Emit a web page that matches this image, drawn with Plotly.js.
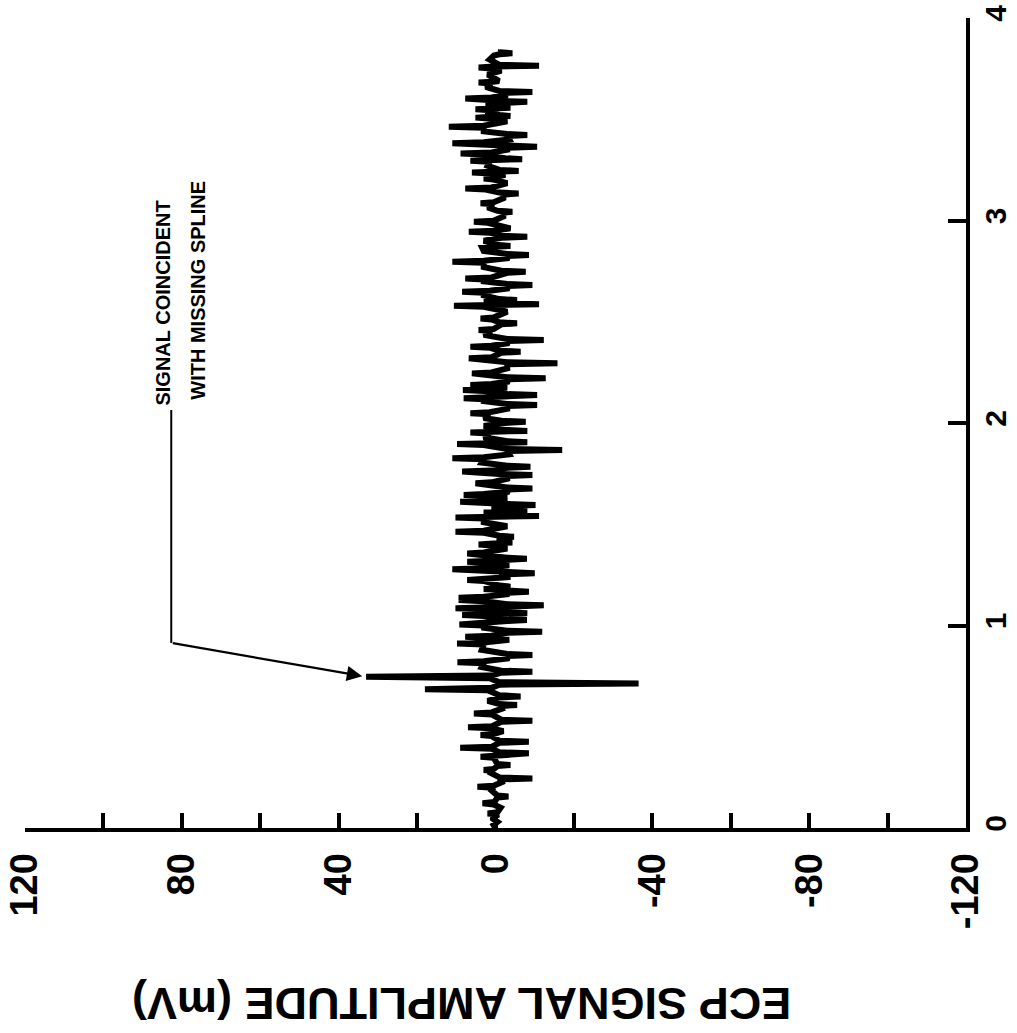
<!DOCTYPE html>
<html>
<head>
<meta charset="utf-8">
<script src="https://cdn.plot.ly/plotly-3.0.1.min.js"></script>
<style>
html,body{margin:0;padding:0;background:#ffffff;}
#chart{width:1017px;height:1033px;}
</style>
</head>
<body>
<div id="chart"></div>
<script>
// time (horizontal axis of the original chart, drawn vertically here)
const timeVals = [
0.000,0.015,0.030,0.050,0.066,0.072,0.078,0.100,0.116,0.122,
0.128,0.150,0.155,0.160,0.185,0.199,0.204,0.209,0.225,0.240,
0.245,0.250,0.270,0.281,0.286,0.291,0.306,0.311,0.316,0.347,
0.352,0.357,0.364,0.369,0.374,0.391,0.396,0.401,0.421,0.426,
0.431,0.454,0.459,0.464,0.478,0.492,0.497,0.502,0.525,0.530,
0.535,0.561,0.566,0.571,0.588,0.602,0.607,0.612,0.628,0.645,
0.650,0.655,0.680,0.685,0.692,0.708,0.714,0.720,0.740,0.747,
0.753,0.767,0.772,0.777,0.795,0.813,0.818,0.823,0.838,0.849,
0.854,0.859,0.880,0.906,0.911,0.916,0.930,0.940,0.945,0.950,
0.964,0.969,0.974,0.990,1.000,1.005,1.010,1.022,1.027,1.032,
1.047,1.052,1.056,1.060,1.065,1.080,1.085,1.090,1.095,1.100,
1.105,1.120,1.126,1.131,1.137,1.142,1.155,1.162,1.167,1.172,
1.180,1.187,1.192,1.197,1.220,1.225,1.230,1.240,1.247,1.253,
1.258,1.263,1.273,1.278,1.283,1.298,1.310,1.315,1.320,1.325,
1.330,1.335,1.351,1.356,1.361,1.380,1.395,1.400,1.405,1.410,
1.415,1.433,1.438,1.443,1.458,1.463,1.468,1.490,1.510,1.528,
1.533,1.537,1.541,1.546,1.558,1.565,1.570,1.575,1.583,1.590,
1.595,1.600,1.606,1.611,1.616,1.630,1.639,1.644,1.649,1.660,
1.672,1.677,1.682,1.697,1.702,1.707,1.725,1.738,1.743,1.748,
1.755,1.760,1.765,1.779,1.784,1.789,1.805,1.821,1.826,1.831,
1.845,1.862,1.867,1.872,1.891,1.896,1.900,1.905,1.910,1.930,
1.948,1.953,1.957,1.961,1.966,1.985,2.001,2.006,2.011,2.025,
2.043,2.048,2.053,2.070,2.084,2.089,2.094,2.108,2.117,2.122,
2.127,2.133,2.138,2.143,2.158,2.163,2.168,2.175,2.183,2.188,
2.193,2.205,2.216,2.221,2.226,2.240,2.245,2.250,2.270,2.290,
2.295,2.300,2.315,2.320,2.325,2.347,2.352,2.357,2.372,2.377,
2.382,2.395,2.405,2.410,2.415,2.435,2.454,2.459,2.464,2.487,
2.492,2.497,2.511,2.516,2.521,2.550,2.574,2.579,2.583,2.587,
2.592,2.597,2.602,2.607,2.612,2.630,2.643,2.648,2.653,2.665,
2.676,2.681,2.686,2.700,2.709,2.714,2.719,2.742,2.747,2.752,
2.770,2.791,2.796,2.801,2.815,2.825,2.830,2.835,2.850,2.866,
2.870,2.874,2.879,2.900,2.915,2.920,2.925,2.940,2.945,2.950,
2.961,2.970,2.989,2.994,2.999,3.020,3.038,3.043,3.048,3.065,
3.080,3.085,3.090,3.110,3.128,3.133,3.138,3.153,3.158,3.163,
3.185,3.202,3.207,3.212,3.225,3.232,3.237,3.241,3.245,3.250,
3.270,3.290,3.295,3.299,3.303,3.308,3.320,3.326,3.331,3.336,
3.350,3.359,3.364,3.369,3.376,3.381,3.386,3.400,3.417,3.422,
3.427,3.440,3.458,3.463,3.468,3.490,3.503,3.508,3.512,3.516,
3.521,3.535,3.544,3.549,3.553,3.557,3.562,3.570,3.581,3.586,
3.591,3.597,3.602,3.607,3.618,3.630,3.635,3.640,3.660,3.676,
3.681,3.685,3.689,3.700,3.720,3.740,3.751,3.756,3.760,3.764,
3.769,3.795,3.815,3.821,3.826,3.831,3.835
];
// ECP signal amplitude (mV)
const ampVals = [
0,0.5,-0.5,1.0,-0.8,2.0,-0.5,-1.3,0.5,3.3,
0.3,-0.5,-3.3,-0.5,1.0,0.5,4.6,0.5,-1.5,-1.0,
-9.4,-1.0,1.0,0.5,3.0,0.5,-0.5,-3.8,-0.5,0.5,
3.8,0,-1.0,-8.5,-1.0,1.0,9.0,1.0,-1.0,-8.5,
-1.0,1.0,3.8,0.5,-2.0,1.0,7.0,1.0,-1.5,-9.4,
-1.5,1.0,5.5,1.0,-1.5,-1.0,-5.5,-1.0,2.0,-1.0,
-6.4,-1.0,2.0,18,1.0,-1.0,-36.5,-1.0,1.5,33,
1.0,-1.5,-9.4,-1.5,3.5,3.0,9.7,3.0,-3.5,-3.0,
-9.4,-3.0,3.5,3.0,9.8,3.0,-3.5,3.0,7.7,1.0,
-3.0,-11.9,-3.0,3.5,3.0,9.2,3.0,-3.0,-8.0,-3.0,
3.0,8.5,1.0,-8.1,-3.0,3.0,10.2,1.0,-3.0,-12.3,
-3.0,3.0,9.4,3.5,9.4,3.0,-3.5,-3.0,-8.5,-3.0,
3.0,-1.0,-3.8,-1.0,3.0,7.2,1.0,-3.8,-1.0,-3.0,
-10.0,-3.0,3.0,11.0,3.0,-3.5,3.0,7.2,1.0,-3.0,
-8.0,-3.0,3.0,7.2,3.0,-3.0,1.0,4.3,0.5,-4.3,
-1.0,-1.0,-4.7,-1.0,3.0,10.2,3.0,-3.0,3.0,3.0,
10.2,1.0,-11.1,-3.0,3.0,-3.0,-8.1,-3.0,1.0,-3.0,
-10.2,-3.0,3.0,9.0,3.0,-3.0,3.0,8.1,3.0,-3.5,
-3.0,-9.4,-3.0,3.0,5.1,1.0,-3.0,-3.0,-9.4,-1.0,
3.0,8.5,1.0,-3.0,-8.9,-3.0,3.5,3.0,11.0,3.0,
-3.5,-3.0,-17.0,-3.0,3.0,9.8,1.0,-8.1,-3.0,3.0,
1.5,6.4,0.5,-8.1,-3.0,3.0,-3.0,-7.7,-1.5,3.0,
1.5,6.4,1.5,-3.0,-3.0,-10.6,-3.0,3.0,3.0,8.1,
1.0,-3.0,-10.6,-3.0,3.0,8.3,1.0,-3.0,3.0,6.4,
1.0,-3.5,-3.0,-12.8,-3.0,3.0,6.0,1.0,-3.0,-3.0,
-15.8,-3.0,3.0,6.8,1.0,-1.5,-6.4,-1.0,1.5,6.4,
1.0,-3.5,-3.0,-12.3,-3.0,3.0,1.0,4.3,0.5,-1.5,
-5.5,-1.0,1.0,3.8,0.5,-3.0,3.0,10.6,1.0,-11.1,
-3.0,3.0,-1.5,-5.5,-1.0,3.0,3.0,8.5,1.5,-3.5,
-3.0,-9.4,-3.0,3.0,3.0,7.7,1.0,-3.0,-7.7,-1.5,
3.0,3.0,11.0,3.0,-3.5,-3.0,-8.5,-3.0,3.0,3.4,
0,-3.8,-1.0,3.0,-1.5,-8.1,-1.5,1.5,6.8,0.5,
-3.8,-2.0,2.0,5.5,0.5,-2.0,-2.0,-4.3,-0.5,2.0,
0.5,3.8,0.5,-2.0,-2.0,-5.9,-1.0,2.5,7.7,1.0,
-3.0,0.5,3.0,0.5,-2.5,1.0,6.0,0.5,-5.9,-1.0,
2.0,1.5,6.4,0.5,-6.8,-2.5,3.0,3.0,8.9,1.0,
-3.0,-3.0,-10.6,-1.0,3.0,11.0,3.0,-3.5,-3.0,-8.1,
-3.0,3.0,3.0,11.9,3.0,-3.0,1.0,5.1,0.5,-3.8,
-1.0,2.5,1.0,5.1,0.5,-3.8,-1.0,2.5,-2.5,-8.1,
-1.0,2.5,7.7,1.0,-2.5,-2.5,-9.4,-1.0,2.5,1.0,
4.3,0.5,-0.9,0,2.0,-1.5,1.0,4.3,0.5,-11.1,
-1.0,1.5,0.4,-1.0,-4.3,-1.0,-1.3
];
const ampTickVals = [120,100,80,60,40,20,0,-20,-40,-60,-80,-100,-120];
const ampTickText = ['120','','80','','40','','0','','-40','','-80','','-120'];
const timeTickVals = [0,1,2,3,4];
const timeTickText = ['0','1','2','3','4'];
const axisTitle = 'ECP SIGNAL AMPLITUDE (mV)';
const noteLine1 = 'SIGNAL COINCIDENT';
const noteLine2 = 'WITH MISSING SPLINE';

const FONT = 'Liberation Sans, Arial, Helvetica, sans-serif';

const trace = {
  type: 'scatter',
  mode: 'lines',
  x: ampVals,
  y: timeVals,
  line: {color: '#000000', width: 6},
  hoverinfo: 'skip',
  showlegend: false
};

const layout = {
  width: 1017,
  height: 1033,
  margin: {l: 25, r: 51, t: 18, b: 205},
  paper_bgcolor: '#ffffff',
  plot_bgcolor: '#ffffff',
  showlegend: false,
  xaxis: {
    range: [120, -120],
    tickmode: 'array',
    tickvals: ampTickVals,
    ticktext: ampTickText,
    ticks: 'inside',
    ticklen: 15,
    tickwidth: 4,
    tickcolor: '#000',
    showline: true,
    linewidth: 4,
    linecolor: '#000',
    showgrid: false,
    zeroline: false,
    tickangle: -90,
    ticklabelstandoff: 6,
    tickfont: {family: FONT, size: 38, color: '#000', weight: 'bold'},
    fixedrange: true
  },
  yaxis: {
    range: [0, 4],
    side: 'right',
    tickmode: 'array',
    tickvals: timeTickVals,
    ticktext: timeTickText,
    ticks: 'inside',
    ticklen: 18,
    tickwidth: 4,
    tickcolor: '#000',
    showline: true,
    linewidth: 4,
    linecolor: '#000',
    showgrid: false,
    zeroline: false,
    tickangle: -90,
    ticklabelstandoff: 0,
    tickfont: {family: FONT, size: 30, color: '#000', weight: 'bold'},
    fixedrange: true
  },
  shapes: [
    {type: 'line', xref: 'x', yref: 'y', x0: 82.7, y0: 0.914, x1: 82.7, y1: 2.064,
     line: {color: '#000', width: 2}}
  ],
  annotations: [
    {text: axisTitle, xref: 'paper', yref: 'paper', x: 0.464, y: -0.216,
     xanchor: 'center', yanchor: 'middle', showarrow: false, textangle: 180,
     font: {family: FONT, size: 45, color: '#000', weight: 'bold'}},
    {text: '<b>' + noteLine1 + '</b>', xref: 'x', yref: 'y', x: 84.8, y: 2.074,
     xanchor: 'center', yanchor: 'bottom', showarrow: false, textangle: -90,
     font: {family: FONT, size: 20, color: '#000', weight: 'bold'}},
    {text: '<b>' + noteLine2 + '</b>', xref: 'x', yref: 'y', x: 75.8, y: 2.104,
     xanchor: 'center', yanchor: 'bottom', showarrow: false, textangle: -90,
     font: {family: FONT, size: 20, color: '#000', weight: 'bold'}},
    {text: '', xref: 'x', yref: 'y', x: 34, y: 0.75,
     axref: 'x', ayref: 'y', ax: 82.7, ay: 0.914,
     showarrow: true, arrowhead: 2, arrowsize: 1.4, arrowwidth: 2.2, arrowcolor: '#000'}
  ]
};

Plotly.newPlot('chart', [trace], layout, {displayModeBar: false, staticPlot: true});
</script>
</body>
</html>
